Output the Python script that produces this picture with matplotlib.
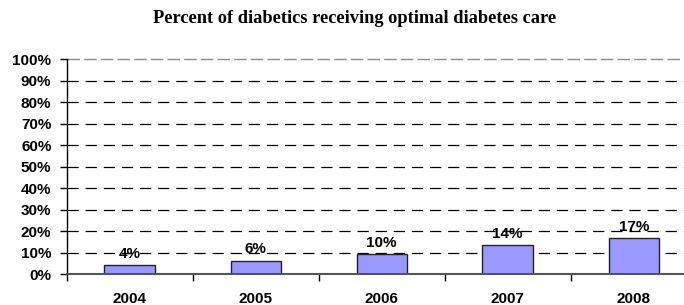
import matplotlib
matplotlib.use("Agg")
import matplotlib.pyplot as plt

years = ["2004", "2005", "2006", "2007", "2008"]
values = [4.1, 6.4, 9.5, 13.5, 16.9]
value_labels = ["4%", "6%", "10%", "14%", "17%"]
y_ticks = [0, 10, 20, 30, 40, 50, 60, 70, 80, 90, 100]
y_tick_labels = [f"{v}%" for v in y_ticks]
title = "Percent of diabetics receiving optimal diabetes care"

fig = plt.figure(figsize=(6.84, 3.05), dpi=100)
ax = fig.add_axes([66.7/684, 30.7/305, 630/684, 215/305])

x = list(range(len(years)))
ax.bar(x, values, width=0.4, color="#9999FF", edgecolor="#222222", linewidth=1.0, zorder=3)

for xi, v, lab in zip(x, values, value_labels):
    ax.annotate(lab, (xi, v), xytext=(0, 8), textcoords="offset points",
                ha="center", va="center", fontsize=11, fontweight="bold",
                family="Liberation Sans", zorder=4)

ax.set_xlim(-0.5, len(years) - 0.5)
ax.set_ylim(0, 100)

for yv in y_ticks[1:-1]:
    ax.axhline(yv, color="black", linewidth=0.9, linestyle=(0, (9, 5.5)), zorder=1)
ax.axhline(100, color="#8c8c8c", linewidth=1.0, linestyle=(0, (9, 3)), zorder=1, clip_on=False)

ax.set_yticks(y_ticks)
ax.set_yticklabels(y_tick_labels, fontsize=11, fontweight="bold", family="Liberation Sans")
ax.tick_params(axis="y", direction="out", length=5, width=1, pad=6, color="black")

ax.set_xticks(x)
ax.set_xticklabels(years, fontsize=11, fontweight="bold", family="Liberation Sans")
ax.tick_params(axis="x", which="major", length=0, pad=12.5)
ax.set_xticks([i - 0.5 for i in range(len(years) + 1)], minor=True)
ax.tick_params(axis="x", which="minor", direction="out", length=5, width=1, color="black")

for s in ["top", "right"]:
    ax.spines[s].set_visible(False)
ax.spines["left"].set_color("black")
ax.spines["left"].set_linewidth(1.0)
ax.spines["bottom"].set_color("#555555")
ax.spines["bottom"].set_linewidth(1.5)
ax.spines["bottom"].set_zorder(5)

fig.text(354.5/684, 1 - 18.5/305, title, ha="center", va="center", fontsize=13.2,
         fontweight="bold", family="Liberation Serif")

fig.savefig("out.png", dpi=100)
